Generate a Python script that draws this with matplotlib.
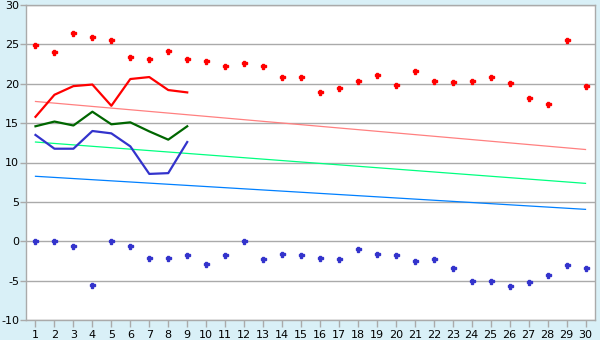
import matplotlib
matplotlib.use("Agg")
import matplotlib.pyplot as plt

plt.rcParams["axes.unicode_minus"] = False

days = list(range(1, 31))

# 点：每日最高 / 最低
max_pts = [24.9, 24.0, 26.4, 26.0, 25.5, 23.35, 23.2, 24.2, 23.1, 22.85,
           22.2, 22.6, 22.3, 20.9, 20.9, 18.9, 19.5, 20.4, 21.05, 19.8,
           21.6, 20.3, 20.2, 20.4, 20.9, 20.05, 18.15, 17.4, 25.5, 19.7]
min_pts = [0.0, 0.0, -0.55, -5.5, 0.0, -0.55, -2.07, -2.07, -1.7, -2.83,
           -1.8, 0.0, -2.2, -1.57, -1.8, -2.07, -2.2, -1.0, -1.57, -1.7,
           -2.45, -2.3, -3.45, -5.1, -5.1, -5.7, -5.2, -4.3, -3.05, -3.45]

# 线：前 9 天
line_days = list(range(1, 10))
red_line = [15.8, 18.6, 19.7, 19.9, 17.2, 20.6, 20.85, 19.2, 18.9]
green_line = [14.6, 15.2, 14.7, 16.45, 14.85, 15.1, 13.95, 12.9, 14.6]
blue_line = [13.5, 11.75, 11.75, 14.0, 13.7, 12.05, 8.55, 8.65, 12.6]

# 趋势线（起点、终点）
trend_x = [1, 30]
trend_red = [17.75, 11.65]
trend_green = [12.6, 7.35]
trend_blue = [8.25, 4.05]

bg = "#D9F0F7"
fig = plt.figure(figsize=(6, 3.4), dpi=100)
fig.patch.set_facecolor(bg)
ax = fig.add_axes([26 / 600, 20 / 340, 569 / 600, 315 / 340])
ax.set_facecolor("white")

ax.set_xlim(0.5, 30.5)
ax.set_ylim(-10, 30)
ax.set_yticks(range(-10, 31, 5))
ax.set_xticks(days)
ax.yaxis.grid(True, color="#AAAAAA", linewidth=1)
ax.set_axisbelow(True)

for s in ax.spines.values():
    s.set_color("#AAAAAA")
    s.set_linewidth(1)
ax.tick_params(axis="both", colors="#AAAAAA", labelcolor="black", labelsize=8, width=1)
ax.tick_params(axis="x", length=5, pad=2)
ax.tick_params(axis="y", length=4, pad=1)

ax.plot(trend_x, trend_red, color="#FF8080", linewidth=0.9)
ax.plot(trend_x, trend_green, color="#00FF80", linewidth=0.9)
ax.plot(trend_x, trend_blue, color="#0080FF", linewidth=0.9)

ax.plot(line_days, red_line, color="#FF0000", linewidth=1.6)
ax.plot(line_days, green_line, color="#006600", linewidth=1.6)
ax.plot(line_days, blue_line, color="#3333CC", linewidth=1.6)

ax.plot(days, max_pts, linestyle="none", marker="P", markersize=3.6, color="#FF0000")
ax.plot(days, min_pts, linestyle="none", marker="P", markersize=3.6, color="#3333CC")

fig.savefig("out.png", dpi=100, facecolor=fig.get_facecolor())
